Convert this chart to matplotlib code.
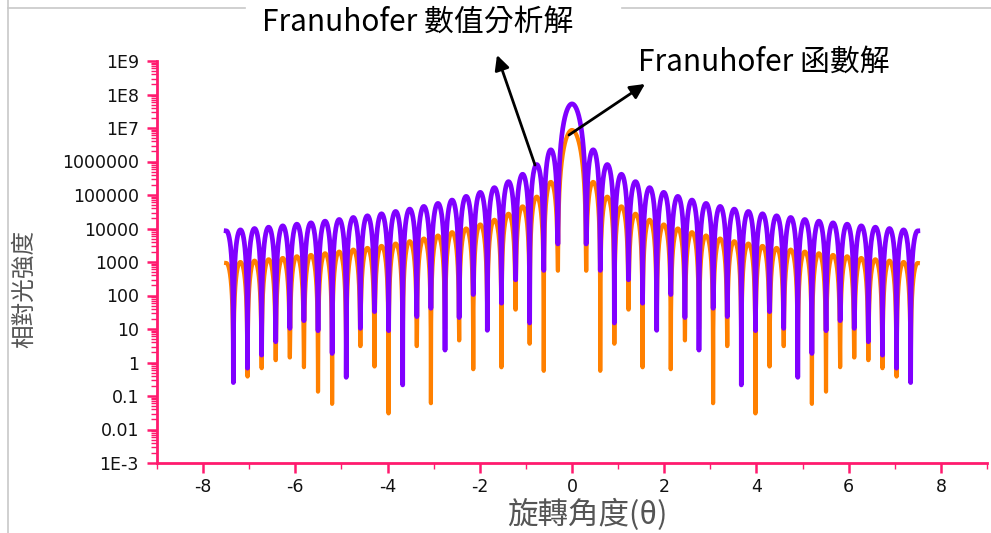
import numpy as np
import matplotlib
matplotlib.use('Agg')
import matplotlib.pyplot as plt
from matplotlib.ticker import FixedLocator, FixedFormatter, LogLocator, MultipleLocator, NullFormatter
from matplotlib.lines import Line2D

plt.rcParams['font.family'] = ['DejaVu Sans', 'Noto Sans CJK TC']
plt.rcParams['axes.unicode_minus'] = False

# spacing between minima (degrees) and extent of the computed range
zero_step = 0.306
x_end = 7.5

# log10 of lobe maxima, index 0 = central lobe, then outward
peak_num = [7.72, 6.35, 5.91, 5.62, 5.40, 5.22, 5.08, 4.96, 4.85, 4.75, 4.66, 4.58, 4.51,
            4.44, 4.38, 4.33, 4.27, 4.22, 4.17, 4.13, 4.08, 4.04, 4.00, 3.96, 3.93]
peak_fun = [6.94, 5.39, 4.95, 4.66, 4.44, 4.26, 4.12, 4.00, 3.89, 3.79, 3.70, 3.62, 3.55,
            3.48, 3.42, 3.37, 3.31, 3.26, 3.21, 3.17, 3.12, 3.08, 3.04, 3.00, 2.97]

# log10 of the value reached at each minimum, minimum 1..24 outward (same on both sides)
dip_num = [3.54, 2.75, 1.18, 2.47, 1.77, 0.96, 2.03, 1.34, 0.37, 1.62, 1.37, -0.67,
           0.95, 1.52, 1.02, -0.47, 0.27, 0.95, 1.25, 1.02, 0.62, 0.22, -0.17, -0.60]
dip_fun = [2.74, -1.37, 0.56, 1.58, -0.50, 1.50, -0.50, 0.66, 1.00, -1.58, 0.49, 0.00,
           -1.52, -0.12, 0.49, 0.10, -1.34, -0.87, -0.14, 0.15, 0.07, -0.17, -0.42, 0.00]

ytick_vals = [1e-3, 1e-2, 1e-1, 1, 10, 100, 1e3, 1e4, 1e5, 1e6, 1e7, 1e8, 1e9]
ytick_labels = ['1E-3', '0.01', '0.1', '1', '10', '100', '1000', '10000', '100000',
                '1000000', '1E7', '1E8', '1E9']


def build_curve(peaks, dips):
    u_end = x_end / zero_step
    u = np.linspace(-u_end, u_end, 9801)
    au = np.abs(u)
    n = np.minimum(np.floor(au).astype(int), len(peaks) - 1)
    t = au - np.floor(au)
    pk = 10.0 ** np.array(peaks)[n]
    shape = np.where(n == 0, np.sinc(u) ** 2, np.sin(np.pi * t) ** 2)
    val = pk * shape
    k = np.clip(np.rint(au).astype(int), 1, len(dips)) - 1
    val = np.maximum(val, 10.0 ** np.array(dips)[k])
    return u * zero_step, val


xn, yn = build_curve(peak_num, dip_num)
xf, yf = build_curve(peak_fun, dip_fun)

pink = '#FF1A6E'
cjk = ['Noto Sans CJK TC', 'DejaVu Sans']
fig = plt.figure(figsize=(9.91, 5.33), dpi=100)
ax = fig.add_axes([157 / 991, 1 - 463 / 533, 830 / 991, 402 / 533])

ax.plot(xf, yf, color='#FF8000', lw=3.0, zorder=2)
ax.plot(xn, yn, color='#8000FF', lw=3.4, zorder=3)

ax.set_yscale('log')
ax.set_ylim(1e-3, 1e9)
ax.set_xlim(-9, 9)
ax.yaxis.set_major_locator(FixedLocator(ytick_vals))
ax.yaxis.set_major_formatter(FixedFormatter(ytick_labels))
ax.yaxis.set_minor_locator(LogLocator(base=10, subs=np.arange(2, 10), numticks=100))
ax.yaxis.set_minor_formatter(NullFormatter())
ax.xaxis.set_major_locator(MultipleLocator(2))
ax.xaxis.set_minor_locator(MultipleLocator(1))

for s in ['top', 'right']:
    ax.spines[s].set_visible(False)
for s in ['left', 'bottom']:
    ax.spines[s].set_color(pink)
    ax.spines[s].set_linewidth(2)
ax.tick_params(which='major', length=7, width=1.8, color=pink, labelsize=12.5,
               labelcolor='#111111', pad=4)
ax.tick_params(axis='y', which='major', pad=6)
ax.tick_params(which='minor', length=4, width=1, color=pink)
for lbl in ax.get_xticklabels() + ax.get_yticklabels():
    lbl.set_family('DejaVu Sans')

fig.text(25 / 991, 1 - 289 / 533, '相對光強度', rotation=90, ha='center', va='center',
         fontsize=17, color='#555555', family=cjk)
fig.text(587 / 991, 1 - 515 / 533, '旋轉角度(θ)', ha='center', va='center',
         fontsize=22, color='#555555', family=cjk)

# slide frame lines
fig.add_artist(Line2D([8 / 991, 8 / 991], [0, 1], transform=fig.transFigure,
                      color='#c8c8c8', lw=1.2))
fig.add_artist(Line2D([8 / 991, 245 / 991], [1 - 8 / 533] * 2, transform=fig.transFigure,
                      color='#c8c8c8', lw=1.2))
fig.add_artist(Line2D([622 / 991, 1], [1 - 8 / 533] * 2, transform=fig.transFigure,
                      color='#c8c8c8', lw=1.2))

fig.text(418 / 991, 1 - 22 / 533, 'Franuhofer 數值分析解', ha='center', va='center',
         fontsize=21.5, color='black', family=cjk)
fig.text(764 / 991, 1 - 62 / 533, 'Franuhofer 函數解', ha='center', va='center',
         fontsize=21.5, color='black', family=cjk)

arrow = dict(arrowstyle='-|>', lw=2, color='black', mutation_scale=22, shrinkA=0, shrinkB=0)
ax.annotate('', xy=(497, 533 - 55), xytext=(535, 533 - 165),
            xycoords='figure pixels', textcoords='figure pixels', arrowprops=arrow)
ax.annotate('', xy=(645, 533 - 84), xytext=(569, 533 - 135),
            xycoords='figure pixels', textcoords='figure pixels', arrowprops=arrow)

fig.savefig('out.png', dpi=100)
